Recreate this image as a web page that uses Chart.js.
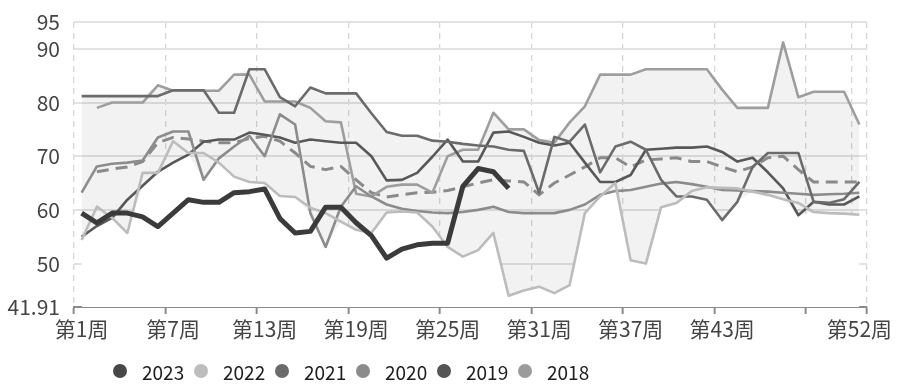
<!DOCTYPE html>
<html>
<head>
<meta charset="utf-8">
<script src="https://cdn.jsdelivr.net/npm/chart.js@4.4.1/dist/chart.umd.min.js"></script>
<style>
  html, body { margin: 0; padding: 0; background: #fff; }
  #wrap { position: relative; width: 900px; height: 391px; }
  #legend { position: absolute; left: 113px; top: 359px; height: 24px; display: flex;
            font-family: "Noto Sans CJK SC", "Noto Sans", sans-serif; font-size: 19px; color: #1e1e1e; }
  #legend .item { width: 81px; display: flex; align-items: center; }
  #legend .dot { width: 14px; height: 14px; border-radius: 50%; margin-right: 15px; }
</style>
</head>
<body>
<div id="wrap">
  <canvas id="chart" width="900" height="391"></canvas>
  <div id="legend"></div>
</div>
<script>
// 周次
const weeks = [];
for (let i = 1; i <= 52; i++) weeks.push('第' + i + '周');
const labelWeeks = [1, 7, 13, 19, 25, 31, 37, 43, 52];
const gridWeeks = [1, 7, 13, 19, 25, 31, 37, 43, 49, 52];
const tickWeeks = [1, 7, 13, 19, 25, 31, 37, 43, 49];
const yTicks = [41.91, 50, 60, 70, 80, 90, 95];

const y2023 = [59.4, 57.6, 59.4, 59.4, 58.7, 56.9, 59.4, 61.9, 61.4, 61.4, 63.2, 63.4, 63.9, 58.4, 55.7, 56.0, 60.5, 60.5, 57.6, 55.2,
  51.0, 52.7, 53.5, 53.8, 53.8, 64.4, 67.7, 67.1, 64.0];

const y2022 = [54.4, 60.6, 58.5, 55.7, 66.9, 66.9, 72.8, 70.6, 70.6, 68.8, 66.2, 65.2, 65.0, 62.6, 62.4, 60.4, 59.4, 57.8, 56.3, 55.7,
  59.5, 59.7, 59.5, 56.9, 53.1, 51.3, 52.5, 55.7, 44.0, 45.0, 45.7, 44.5, 46.0, 59.4, 62.5, 65.0, 50.6, 50.0, 60.5, 61.3,
  63.5, 64.2, 64.1, 64.0, 63.4, 62.8, 62.0, 61.3, 59.6, 59.4, 59.3, 59.1];

const y2021 = [81.2, 81.2, 81.2, 81.2, 81.2, 81.2, 82.3, 82.3, 82.3, 78.1, 78.1, 86.2, 86.2, 81.0, 79.3, 82.8, 81.7, 81.7, 81.7, 78.0,
  74.5, 73.8, 73.8, 72.9, 72.7, 72.3, 72.0, 71.8, 71.2, 71.0, 63.2, 73.6, 72.7, 75.9, 67.0, 71.8, 72.7, 71.2, 65.6, 62.5,
  62.5, 61.9, 58.1, 61.5, 68.0, 70.6, 70.6, 70.6, 61.5, 61.3, 62.0, 65.2];

const y2020 = [63.2, 68.1, 68.6, 68.8, 69.2, 73.5, 74.6, 74.6, 65.6, 69.6, 71.8, 73.8, 70.0, 77.8, 75.9, 59.4, 53.1, 60.6, 64.4, 62.5,
  61.0, 60.2, 59.8, 59.5, 59.4, 59.6, 60.0, 60.6, 59.6, 59.4, 59.4, 59.4, 60.0, 61.0, 62.8, 63.5, 63.7, 64.3, 64.9, 65.2,
  64.8, 64.3, 63.7, 63.6, 63.5, 63.4, 63.2, 63.0, 62.8, 62.9, 63.0, 63.2];

const y2019 = [55.0, 57.0, 58.5, 61.9, 64.5, 67.1, 68.8, 70.3, 72.7, 73.1, 73.1, 74.4, 74.0, 73.5, 72.5, 73.1, 72.8, 72.5, 72.5, 70.0,
  65.5, 65.6, 66.9, 69.9, 73.1, 69.0, 69.0, 74.4, 74.6, 73.6, 72.5, 72.0, 72.5, 68.8, 65.2, 65.2, 66.5, 71.2, 71.4, 71.6,
  71.6, 71.8, 70.8, 69.0, 69.7, 67.0, 64.0, 59.0, 61.5, 61.0, 61.0, 62.5];

const y2018 = [null, 79.0, 80.0, 80.0, 80.0, 83.2, 82.2, 82.2, 82.2, 82.2, 85.2, 85.2, 80.2, 80.2, 80.2, 79.0, 76.5, 76.3, 63.0, 62.5,
  64.3, 64.7, 64.7, 63.2, 70.0, 71.2, 71.2, 78.1, 75.0, 75.0, 73.0, 72.5, 76.3, 79.3, 85.2, 85.2, 85.2, 86.2, 86.2, 86.2,
  86.2, 86.2, 82.4, 79.0, 79.0, 79.0, 91.2, 81.0, 82.0, 82.0, 82.0, 75.9];

// 五年均值
const avg5 = [null, 67.1, 67.6, 68.0, 69.0, 72.5, 73.5, 73.2, 72.8, 72.5, 72.5, 73.3, 73.7, 72.8, 70.6, 68.1, 67.5, 68.1, 65.6, 63.2,
  62.4, 62.8, 63.2, 63.3, 63.6, 64.3, 65.0, 65.6, 65.4, 65.2, 62.8, 65.0, 66.5, 68.0, 69.7, 69.7, 68.0, 69.3, 69.5, 69.7,
  69.0, 69.0, 68.0, 67.1, 68.0, 69.7, 70.0, 67.5, 65.2, 65.2, 65.2, 65.2];

// 区间上沿 / 下沿
const bandMax = [81.2, 81.2, 81.2, 81.2, 81.2, 83.2, 82.3, 82.3, 82.3, 82.2, 85.2, 86.2, 86.2, 81.0, 80.2, 82.8, 81.7, 81.7, 81.7, 78.0,
  74.5, 73.8, 73.8, 72.9, 73.1, 72.3, 72.0, 78.1, 75.0, 75.0, 73.0, 73.6, 76.3, 79.3, 85.2, 85.2, 85.2, 86.2, 86.2, 86.2,
  86.2, 86.2, 82.4, 79.0, 79.0, 79.0, 91.2, 81.0, 82.0, 82.0, 82.0, 75.9];
const bandMin = [54.4, 57.0, 58.5, 55.7, 64.5, 66.9, 68.8, 70.3, 65.6, 68.8, 66.2, 65.2, 65.0, 62.6, 62.4, 59.4, 53.1, 57.8, 56.3, 55.7,
  59.5, 59.7, 59.5, 56.9, 53.1, 51.3, 52.5, 55.7, 44.0, 45.0, 45.7, 44.5, 46.0, 59.4, 62.5, 63.5, 50.6, 50.0, 60.5, 61.3,
  62.5, 61.9, 58.1, 61.5, 63.4, 62.8, 62.0, 59.0, 59.6, 59.4, 59.3, 59.1];

const years = ['2023', '2022', '2021', '2020', '2019', '2018'];
const lineColors = ['#3b3b3b', '#bcbcbc', '#6b6b6b', '#8c8c8c', '#585858', '#9e9e9e'];
const legendColors = ['#474747', '#bdbdbd', '#6b6b6b', '#8b8b8b', '#555555', '#9b9b9b'];
const seriesData = [y2023, y2022, y2021, y2020, y2019, y2018];

const fontFamily = '"Noto Sans CJK SC", "Noto Sans", sans-serif';

const datasets = [];
seriesData.forEach(function(data, i) {
  datasets.push({
    label: years[i],
    data: data,
    borderColor: lineColors[i],
    borderWidth: i === 0 ? 5 : 2.6,
    fill: false
  });
});
datasets.push({
  label: '均值',
  data: avg5,
  borderColor: '#8a8a8a',
  borderWidth: 3,
  borderDash: [12, 7],
  fill: false
});
datasets.push({
  label: 'max',
  data: bandMax,
  borderWidth: 0,
  borderColor: 'rgba(0,0,0,0)',
  backgroundColor: 'rgba(0,0,0,0.05)',
  fill: '+1'
});
datasets.push({
  label: 'min',
  data: bandMin,
  borderWidth: 0,
  borderColor: 'rgba(0,0,0,0)',
  backgroundColor: '#ffffff',
  fill: 'start'
});

new Chart(document.getElementById('chart'), {
  type: 'line',
  data: { labels: weeks, datasets: datasets },
  options: {
    responsive: false,
    animation: false,
    layout: { padding: { top: 22, right: 33, left: 0, bottom: 0 } },
    elements: {
      point: { radius: 0 },
      line: { tension: 0, borderJoinStyle: 'round', borderCapStyle: 'butt' }
    },
    plugins: {
      legend: { display: false },
      tooltip: { enabled: false },
      filler: { drawTime: 'beforeDatasetsDraw' }
    },
    scales: {
      x: {
        offset: true,
        grid: {
          offset: true,
          lineWidth: 1.3,
          color: function(ctx) {
            if (ctx.index === undefined) return '#d6d6d6';
            return gridWeeks.includes(ctx.index + 1) ? '#d6d6d6' : 'rgba(0,0,0,0)';
          },
          tickLength: 7,
          tickWidth: 2,
          tickColor: function(ctx) {
            if (ctx.index === undefined) return '#8a8a8a';
            return tickWeeks.includes(ctx.index + 1) ? '#8a8a8a' : 'rgba(0,0,0,0)';
          }
        },
        border: { display: true, color: '#8a8a8a', width: 2, dash: [6, 5] },
        ticks: {
          autoSkip: false,
          maxRotation: 0,
          padding: 2,
          color: '#444',
          font: { size: 21, family: fontFamily },
          callback: function(v, i) {
            return labelWeeks.includes(i + 1) ? weeks[i] : '';
          }
        },
        afterFit: function(s) { s.height = 84; }
      },
      y: {
        min: 41.91,
        max: 95,
        afterBuildTicks: function(s) {
          s.ticks = yTicks.map(function(v) { return { value: v }; });
        },
        grid: { color: '#e2e2e2', lineWidth: 2, drawTicks: false },
        border: { display: false },
        ticks: {
          padding: 14,
          color: '#444',
          font: { size: 21, family: fontFamily },
          callback: function(v) { return String(v); }
        },
        afterFit: function(s) {
          s.width = 74;
          s.paddingTop = 0;
          s.paddingBottom = 0;
        }
      }
    }
  }
});

// 图例
const legendEl = document.getElementById('legend');
years.forEach(function(y, i) {
  const item = document.createElement('div');
  item.className = 'item';
  const dot = document.createElement('span');
  dot.className = 'dot';
  dot.style.background = legendColors[i];
  const txt = document.createElement('span');
  txt.textContent = y;
  item.appendChild(dot);
  item.appendChild(txt);
  legendEl.appendChild(item);
});
</script>
</body>
</html>
